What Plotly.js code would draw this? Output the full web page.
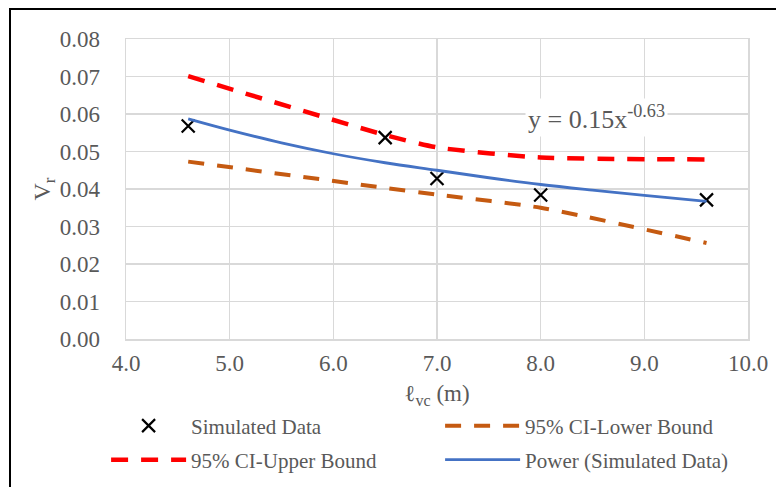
<!DOCTYPE html>
<html>
<head>
<meta charset="utf-8">
<script src="https://cdn.plot.ly/plotly-3.0.1.min.js"></script>
<style>
  html, body { margin: 0; padding: 0; background: #fff; }
  #wrap { position: relative; width: 776px; height: 487px; overflow: hidden; }
  #chart { position: absolute; left: 0; top: 0; width: 776px; height: 487px; }
  #frame { position: absolute; left: 9px; top: 8px; width: 800px; height: 600px;
           border: 2px solid #000; box-sizing: border-box; pointer-events: none; }
</style>
</head>
<body>
<div id="wrap">
  <div id="chart"></div>
  <div id="frame"></div>
</div>
<script>
// Simulated data
const simX = [4.6, 6.5, 7.0, 8.0, 9.6];
const simY = [0.0568, 0.0537, 0.0428, 0.0384, 0.0371];
// 95% CI bounds
const ciX = [4.6, 6.5, 7.0, 8.0, 9.6];
const ciLower = [0.0473, 0.0403, 0.0385, 0.0350, 0.0256];
const ciUpper = [0.0701, 0.0544, 0.0511, 0.0484, 0.0479];
// Power trendline
const powX = [4.6, 5.0, 5.5, 6.0, 6.5, 7.0, 7.5, 8.0, 8.5, 9.0, 9.6];
const powY = [0.0587, 0.0557, 0.0523, 0.0494, 0.0470, 0.0450, 0.0430, 0.0412, 0.0397, 0.0383, 0.0367];
// Axis ticks
const xTicks = [4.0, 5.0, 6.0, 7.0, 8.0, 9.0, 10.0];
const yTicks = [0.00, 0.01, 0.02, 0.03, 0.04, 0.05, 0.06, 0.07, 0.08];
const eqText = 'y = 0.15x<sup>-0.63</sup>';

const FONT = '"Liberation Serif", "Times New Roman", serif';
const GREY = '#595959';

const traces = [
  { x: simX, y: simY, mode: 'markers', type: 'scatter', name: 'Simulated Data', legend: 'legend',
    marker: { symbol: 'x-thin-open', size: 13, color: '#000', line: { width: 2.2, color: '#000' } } },
  { x: ciX, y: ciLower, mode: 'lines', type: 'scatter', name: '95% CI-Lower Bound', legend: 'legend',
    line: { color: '#C55A11', width: 4, dash: '16px,13px', shape: 'spline', smoothing: 0.6 } },
  { x: ciX, y: ciUpper, mode: 'lines', type: 'scatter', name: '95% CI-Upper Bound', legend: 'legend2',
    line: { color: '#FF0000', width: 4.5, dash: '17px,13px', shape: 'spline', smoothing: 0.6 } },
  { x: powX, y: powY, mode: 'lines', type: 'scatter', name: 'Power (Simulated Data)', legend: 'legend2',
    line: { color: '#4472C4', width: 2.8, shape: 'spline' } }
];

const legendBase = {
  orientation: 'h', xref: 'paper', yref: 'paper',
  x: -0.032, xanchor: 'left', yanchor: 'middle',
  entrywidth: 244, entrywidthmode: 'pixels',
  font: { family: FONT, size: 21, color: GREY },
  itemwidth: 75, bgcolor: 'rgba(0,0,0,0)', borderwidth: 0
};

const layout = {
  width: 776, height: 487,
  margin: { l: 126, r: 28, t: 39, b: 148, autoexpand: false },
  paper_bgcolor: 'rgba(0,0,0,0)', plot_bgcolor: '#fff',
  font: { family: FONT, color: GREY, size: 21 },
  showlegend: true,
  xaxis: {
    range: [4, 10], tickvals: xTicks, ticktext: xTicks.map(v => v.toFixed(1)),
    showgrid: true, gridcolor: '#D9D9D9', gridwidth: 1.5,
    showline: true, linecolor: '#D9D9D9', linewidth: 1.5, mirror: true,
    zeroline: false, ticks: '', ticklabelstandoff: 3,
    tickfont: { family: FONT, size: 23, color: GREY },
    title: { text: 'ℓ<sub>vc</sub> (m)', font: { family: FONT, size: 23, color: GREY }, standoff: 10 }
  },
  yaxis: {
    range: [0, 0.08], tickvals: yTicks, ticktext: yTicks.map(v => v.toFixed(2)),
    showgrid: true, gridcolor: '#D9D9D9', gridwidth: 1.5,
    showline: true, linecolor: '#D9D9D9', linewidth: 1.5, mirror: true,
    zeroline: false, ticks: '', ticklabelstandoff: 20,
    tickfont: { family: FONT, size: 23, color: GREY },
    title: { text: 'V<sub>r</sub>', font: { family: FONT, size: 24, color: GREY }, standoff: 2 }
  },
  legend: Object.assign({}, legendBase, { y: (339 - 426) / 300 }),
  legend2: Object.assign({}, legendBase, { y: (339 - 460) / 300 }),
  annotations: [{
    x: 8.54, y: 0.0592, xref: 'x', yref: 'y', text: eqText, showarrow: false,
    bgcolor: '#fff', font: { family: FONT, size: 26, color: GREY }, borderpad: 2
  }]
};

Plotly.newPlot('chart', traces, layout, { staticPlot: true });
</script>
</body>
</html>
